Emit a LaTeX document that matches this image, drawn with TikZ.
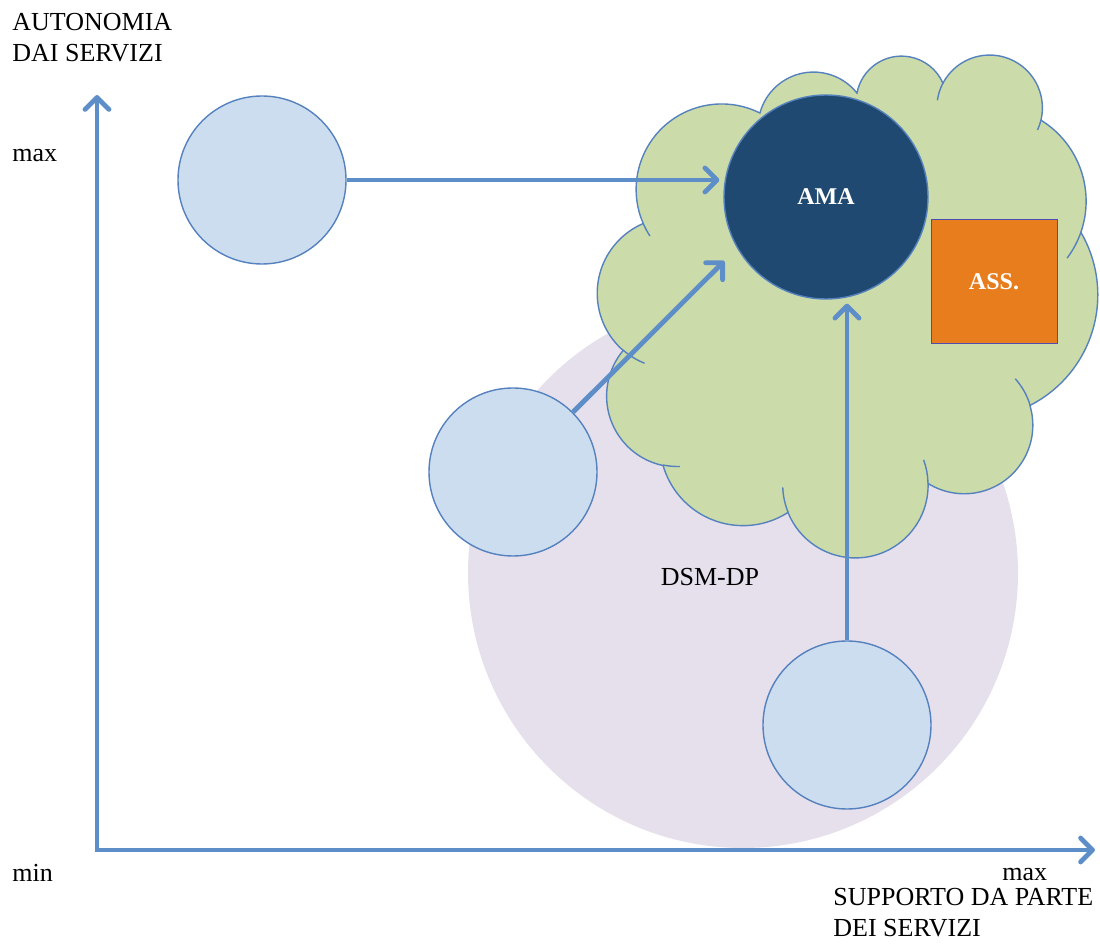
\documentclass[tikz,border=0pt]{standalone}
\usepackage{fontspec}
\setmainfont{Liberation Serif}
\usetikzlibrary{arrows.meta, positioning}

\definecolor{axisblue}{RGB}{94,142,200}
\definecolor{bubblefill}{RGB}{204,221,240}
\definecolor{bubbleline}{RGB}{85,130,190}
\definecolor{dsmfill}{RGB}{230,224,237}
\definecolor{cloudfill}{RGB}{203,219,170}
\definecolor{amablue}{RGB}{31,73,112}
\definecolor{assorange}{RGB}{232,125,30}

\begin{document}
\begin{tikzpicture}[x=0.5pt, y=-0.5pt, font=\fontsize{13}{15.5}\selectfont,
    bubble/.style={draw=bubbleline, fill=bubblefill, circle, line width=0.7pt, minimum size=84pt, inner sep=0pt},
    tip/.tip={Straight Barb[length=6pt, width=12pt, round]},
    arr/.style={draw=axisblue, line width=2.4pt, -tip},
    puff/.style={draw=bubbleline, line width=0.7pt},
    lbl/.style={inner sep=0pt, align=left}]
        \useasboundingbox (0,0) rectangle (1100,952);
        % areas behind everything
        \node[circle, fill=dsmfill, minimum size=275pt, inner sep=0pt] (dsm) at (743,573) {};
        \draw[puff, fill=cloudfill] (643,223)
            arc[start angle=156.9, end angle=296.6, radius=85.5]
            arc[start angle=195.2, end angle=321.6, radius=55.5]
            arc[start angle=190.6, end angle=336.2, radius=45.3]
            arc[start angle=207.9, end angle=373.5, radius=52.8]
            arc[start angle=301.7, end angle=379.1, radius=95.2]
            arc[start angle=329.7, end angle=423.1, radius=124]
            arc[start angle=343.3, end angle=481.8, radius=68.6]
            arc[start angle=358.6, end angle=518.0, radius=72.7]
            arc[start angle=57.3, end angle=163.9, radius=83.2]
            arc[start angle=101.8, end angle=219.9, radius=71]
            arc[start angle=131.2, end angle=246.7, radius=76] -- cycle;
        % small inner arcs of the cloud
        \draw[puff] (643,223) arc[start angle=156.9, end angle=147, radius=85.5];
        \draw[puff] (623,350) arc[start angle=131.2, end angle=112, radius=76];
        \draw[puff] (663,465) arc[start angle=101.8, end angle=88, radius=71];
        \draw[puff] (788,512) arc[start angle=158, end angle=178, radius=72.7];
        \draw[puff] (928,483) arc[start angle=358.6, end angle=340, radius=72.7];
        \draw[puff] (1030,405) arc[start angle=343.3, end angle=318, radius=68.6];
        \draw[puff] (1081,232) arc[start angle=19.1, end angle=37, radius=95.2];
        \draw[puff] (1041,120) arc[start angle=13.5, end angle=25, radius=52.8];
        \draw[puff] (943,83) arc[start angle=207.9, end angle=188, radius=52.8];
        \node (dsmlbl) at (710,577) {DSM-DP};
        \node[circle, draw=bubbleline, fill=amablue, line width=0.7pt, minimum size=102pt, text=white, font=\bfseries\fontsize{12}{14}\selectfont] (ama) at (826,197) {AMA};
        \node[rectangle, draw=gray!60!blue, fill=assorange, line width=0.5pt, minimum width=63pt, minimum height=62pt, text=white, font=\bfseries\fontsize{12}{14}\selectfont] (ass) at (994,282) {ASS.};
        \node[bubble] (c1) at (262,180) {};
        \node[bubble] (c2) at (513,472) {};
        \node[bubble] (c3) at (847,725) {};

        % axes
        \coordinate (origin) at (97,850);
        \coordinate (ytop) at (97,95);
        \coordinate (xend) at (1095,850);
        \draw[arr, tip-tip, line join=miter] (ytop) -- (origin) -- (xend);
        \node[lbl, anchor=north west] (ylbl) at (12,13) {AUTONOMIA\\DAI SERVIZI};
        \node[lbl, anchor=base west] (ymax) at (12,162) {max};
        \node[lbl, anchor=base west] (min) at (12,882) {min};
        \node[lbl, anchor=base west] (xmax) at (1002,880) {max};
        \node[lbl, anchor=north west] (xlbl) at (833,888) {SUPPORTO DA PARTE\\DEI SERVIZI};

        \draw[arr, shorten >=2pt] (c1) -- (c1 -| ama.west);
        \draw[arr, shorten >=9pt] (c2) -- (ama.210);
        \draw[arr, shorten >=2pt] (c3) -- (c3 |- ama.south);
    \end{tikzpicture}
\end{document}
